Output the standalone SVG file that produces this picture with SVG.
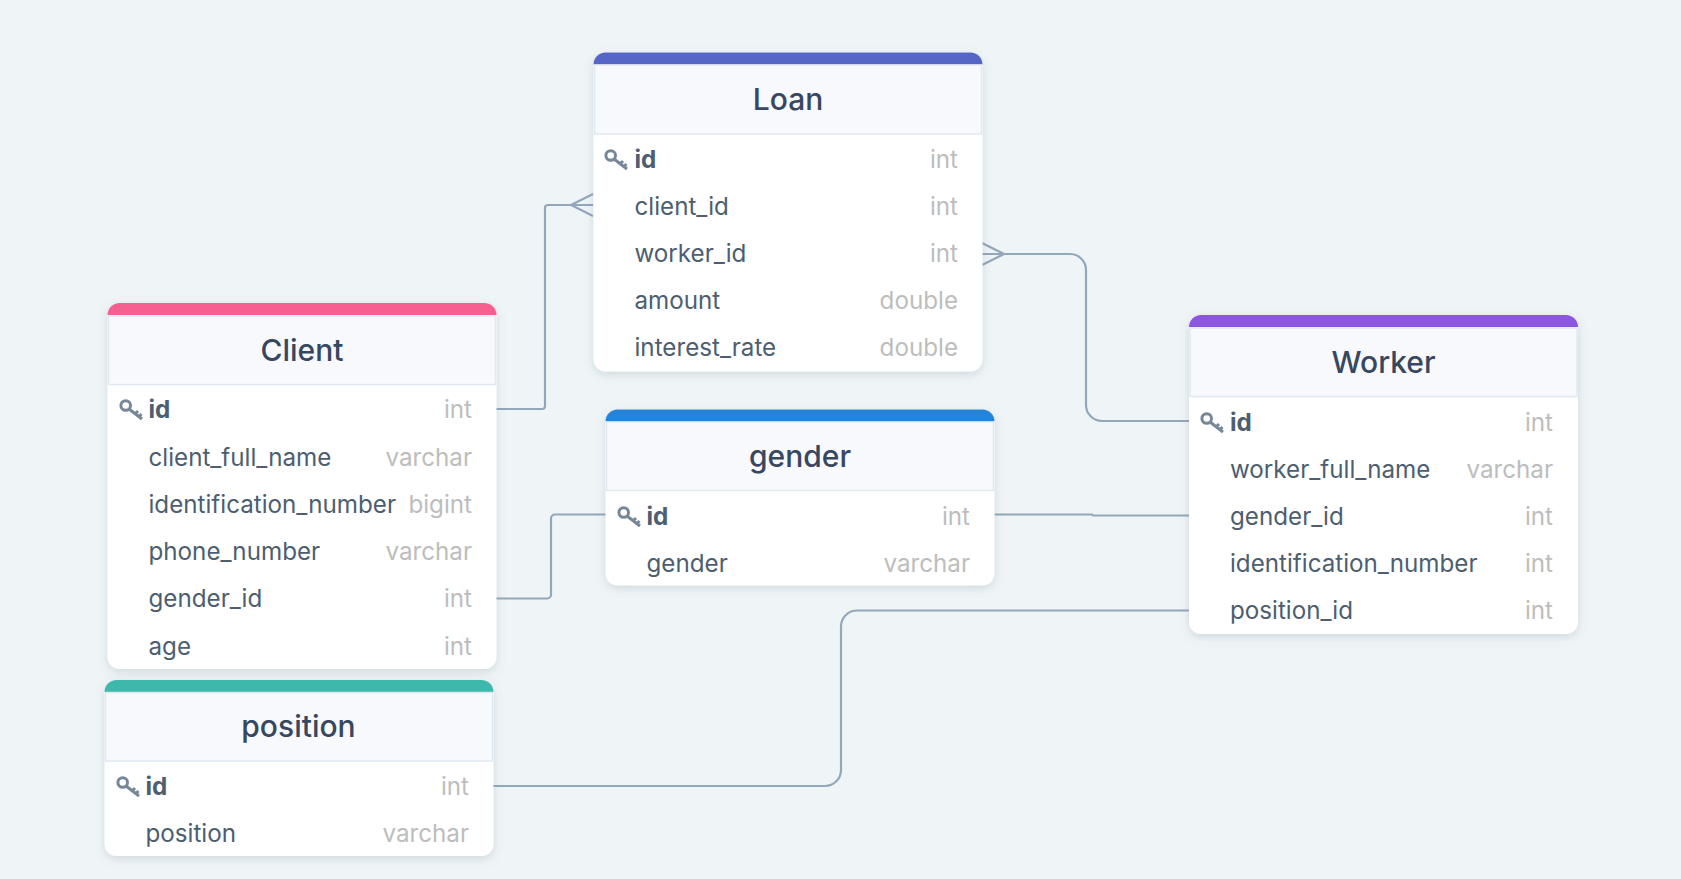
<svg xmlns="http://www.w3.org/2000/svg" width="1681" height="879" viewBox="0 0 1681 879">
<style>
text{font-family:Inter,"Noto Sans","Liberation Sans",sans-serif}
.title{font-size:30px;font-weight:500;fill:#374760;text-anchor:middle}
.f{font-size:24.200px;fill:#4c5e70}
.pk{font-size:24.200px;font-weight:700;fill:#4c5e70}
.t{font-size:24.200px;fill:#bdbdbd;text-anchor:end}
.card{fill:#fff;filter:url(#sh)}
.head{fill:#f7f9fd;stroke:#e2e8f0;stroke-width:1.5}
.conn{fill:none;stroke:#93a7ba;stroke-width:2.200}
.key{fill:none;stroke:#768797;stroke-width:3}
</style>
<defs>
<filter id="sh" x="-10%" y="-10%" width="120%" height="125%"><feDropShadow dx="0" dy="3" stdDeviation="5" flood-color="#5a7080" flood-opacity="0.22"/></filter>
<g id="k"><circle cx="-9.300" cy="-3.500" r="4.800" class="key"/><path d="M-6 0L7 10M0 5L3 2M3.500 8L6.500 5" class="key"/></g>
</defs>
<rect width="1681" height="879" fill="#eff5f7"/>
<g id="connectors">
<path class="conn" d="M496 409H542a3 3 0 0 0 3-3V208a3 3 0 0 1 3-3H593M571 205L593 194M571 205L593 216"/>
<path class="conn" d="M982 254H1070a16 16 0 0 1 16 16V405a16 16 0 0 0 16 16H1189M982 243L1004 254M982 265L1004 254"/>
<path class="conn" d="M496 598.500H547a4 4 0 0 0 4-4V518.500a4 4 0 0 1 4-4H606"/>
<path class="conn" d="M994.500 514.500L1092 514.500L1093 515.500H1189"/>
<path class="conn" d="M493 786H825a16 16 0 0 0 16-16V626.500a16 16 0 0 1 16-16H1189"/>
</g>
<g id="loan">
<rect class="card" x="593.500" y="52.500" width="389" height="319" rx="12"/>
<path d="M593.500 64.500a12 12 0 0 1 12-12h365a12 12 0 0 1 12 12z" fill="#5666c6"/>
<rect class="head" x="594.500" y="65" width="387" height="69"/>
<text class="title" x="788" y="110">Loan</text>
<use href="#k" x="620" y="159"/>
<text class="pk" x="634.500" y="168">id</text><text class="t" x="958" y="168">int</text>
<text class="f" x="634.500" y="215">client_id</text><text class="t" x="958" y="215">int</text>
<text class="f" x="634.500" y="262">worker_id</text><text class="t" x="958" y="262">int</text>
<text class="f" x="634.500" y="309">amount</text><text class="t" x="958" y="309">double</text>
<text class="f" x="634.500" y="356">interest_rate</text><text class="t" x="958" y="356">double</text>
</g>
<g id="client">
<rect class="card" x="107.500" y="303" width="389" height="366" rx="12"/>
<path d="M107.500 315a12 12 0 0 1 12-12h365a12 12 0 0 1 12 12z" fill="#f75f90"/>
<rect class="head" x="108.500" y="316" width="387" height="68.500"/>
<text class="title" x="302" y="361">Client</text>
<use href="#k" x="135" y="409"/>
<text class="pk" x="148.500" y="418">id</text><text class="t" x="472" y="418">int</text>
<text class="f" x="148.500" y="466">client_full_name</text><text class="t" x="472" y="466">varchar</text>
<text class="f" x="148.500" y="513">identification_number</text><text class="t" x="472" y="513">bigint</text>
<text class="f" x="148.500" y="560">phone_number</text><text class="t" x="472" y="560">varchar</text>
<text class="f" x="148.500" y="607">gender_id</text><text class="t" x="472" y="607">int</text>
<text class="f" x="148.500" y="655">age</text><text class="t" x="472" y="655">int</text>
</g>
<g id="position">
<rect class="card" x="104.500" y="680" width="389" height="176" rx="12"/>
<path d="M104.500 692a12 12 0 0 1 12-12h365a12 12 0 0 1 12 12z" fill="#3db8ab"/>
<rect class="head" x="105.500" y="692.500" width="387" height="68.500"/>
<text class="title" x="298.500" y="737">position</text>
<use href="#k" x="132" y="786"/>
<text class="pk" x="145.500" y="795">id</text><text class="t" x="469" y="795">int</text>
<text class="f" x="145.500" y="842">position</text><text class="t" x="469" y="842">varchar</text>
</g>
<g id="gender">
<rect class="card" x="605.500" y="409.500" width="389" height="176" rx="12"/>
<path d="M605.500 421.500a12 12 0 0 1 12-12h365a12 12 0 0 1 12 12z" fill="#2484da"/>
<rect class="head" x="606.500" y="422" width="387" height="68.500"/>
<text class="title" x="800" y="467">gender</text>
<use href="#k" x="633" y="516"/>
<text class="pk" x="646.500" y="525">id</text><text class="t" x="970" y="525">int</text>
<text class="f" x="646.500" y="572">gender</text><text class="t" x="970" y="572">varchar</text>
</g>
<g id="worker">
<rect class="card" x="1189" y="315" width="389" height="319" rx="12"/>
<path d="M1189 327a12 12 0 0 1 12-12h365a12 12 0 0 1 12 12z" fill="#8d56e0"/>
<rect class="head" x="1190" y="328" width="387" height="68.500"/>
<text class="title" x="1383.500" y="373">Worker</text>
<use href="#k" x="1216" y="422"/>
<text class="pk" x="1230" y="431">id</text><text class="t" x="1553" y="431">int</text>
<text class="f" x="1230" y="478">worker_full_name</text><text class="t" x="1553" y="478">varchar</text>
<text class="f" x="1230" y="525">gender_id</text><text class="t" x="1553" y="525">int</text>
<text class="f" x="1230" y="572">identification_number</text><text class="t" x="1553" y="572">int</text>
<text class="f" x="1230" y="619">position_id</text><text class="t" x="1553" y="619">int</text>
</g>
</svg>
